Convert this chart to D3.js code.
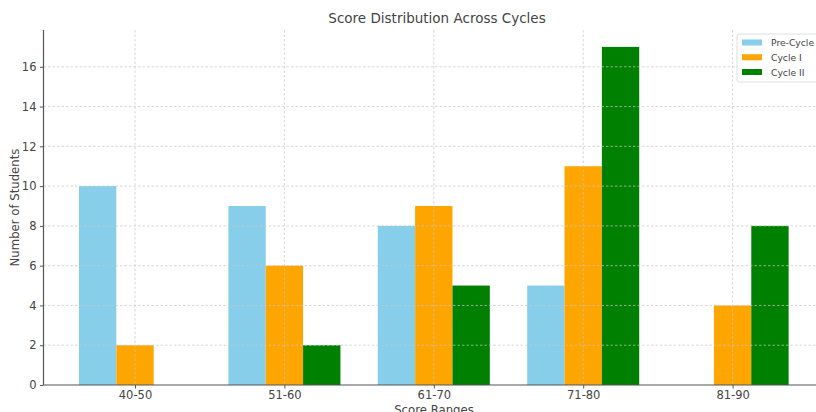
<!DOCTYPE html>
<html><head><meta charset="utf-8">
<script src="https://cdn.jsdelivr.net/npm/d3@7"></script>
<style>body{margin:0;background:#fff}svg{display:block;font-family:"DejaVu Sans",sans-serif}</style>
</head><body><svg id="c" width="816" height="412"></svg>
<script>
const categories = ["40-50","51-60","61-70","71-80","81-90"];
const seriesNames = ["Pre-Cycle","Cycle I","Cycle II"];
const preCycle = [10,9,8,5,0];
const cycleI = [2,6,9,11,4];
const cycleII = [0,2,5,17,8];
const yTicks = [0,2,4,6,8,10,12,14,16];
const colors = ["#87CEEB","#FFA500","#008000"];
const series = [preCycle, cycleI, cycleII];

const svg = d3.select("#c");
const mBottom = 385, mTop = 30, unit = 149.4, x0 = 135;
const x = d3.scaleLinear().domain([-0.6125, 4.6125]).range([x0 - 0.6125*unit, x0 + 4.6125*unit]);
const mLeft = x(-0.6125);
const y = d3.scaleLinear().domain([0, 17.85]).range([mBottom, mTop]);
const bw = 0.25;
const textCol = "#444";

// bars
series.forEach((vals, si) => {
  svg.append("g").selectAll("rect").data(vals).join("rect")
    .attr("x", (d,i) => x(i + (si-1)*bw - bw/2))
    .attr("width", x(bw) - x(0))
    .attr("y", d => y(d))
    .attr("height", d => y(0) - y(d))
    .attr("fill", colors[si]);
});

// grid (drawn above bars)
const grid = svg.append("g").attr("stroke","#c8c8c8").attr("stroke-width",0.8).attr("stroke-dasharray","2.5,2").attr("opacity",0.9);
yTicks.slice(1).forEach(t => grid.append("line").attr("x1",mLeft).attr("x2",816).attr("y1",y(t)).attr("y2",y(t)));
categories.forEach((c,i) => grid.append("line").attr("x1",x(i)).attr("x2",x(i)).attr("y1",mTop).attr("y2",mBottom));

// axes
const yAxis = d3.axisLeft(y).tickValues(yTicks).tickSize(3.5).tickPadding(3.5);
const gy = svg.append("g").attr("transform",`translate(${mLeft},0)`).call(yAxis);
const xAxis = d3.axisBottom(x).tickValues(d3.range(categories.length)).tickFormat(i => categories[i]).tickSize(3.5).tickPadding(2.5);
const gx = svg.append("g").attr("transform",`translate(0,${mBottom})`).call(xAxis);
[gx, gy].forEach(g => {
  g.select(".domain").attr("stroke","#555").attr("stroke-width",1.2);
  g.selectAll(".tick line").attr("stroke","#555");
  g.selectAll("text").attr("fill",textCol).attr("font-size","11.5px").attr("font-family","DejaVu Sans");
});
gy.select(".domain").attr("d", `M0,${mTop}V${mBottom}`);
gx.select(".domain").attr("d", `M${mLeft},0H816`);

// labels
svg.append("text").attr("x",437).attr("y",23).attr("text-anchor","middle").attr("font-size","13.5px").attr("fill",textCol).text("Score Distribution Across Cycles");
svg.append("text").attr("transform",`translate(18.5,${(mTop+mBottom)/2}) rotate(-90)`).attr("text-anchor","middle").attr("font-size","11.7px").attr("fill",textCol).text("Number of Students");
svg.append("text").attr("x",434).attr("y",414).attr("text-anchor","middle").attr("font-size","11.7px").attr("fill",textCol).text("Score Ranges");

// legend
const lg = svg.append("g").attr("transform","translate(737,34)");
lg.append("rect").attr("x",0).attr("y",0).attr("width",90).attr("height",48).attr("rx",2.5).attr("fill","#fff").attr("fill-opacity",0.85).attr("stroke","#d5d5d5").attr("stroke-width",0.8);
seriesNames.forEach((n,i) => {
  lg.append("rect").attr("x",5).attr("y",5.5+i*14.75).attr("width",20).attr("height",6).attr("fill",colors[i]);
  lg.append("text").attr("x",34).attr("y",12+i*14.75).attr("font-size","9.2px").attr("fill",textCol).text(n);
});
</script></body></html>
